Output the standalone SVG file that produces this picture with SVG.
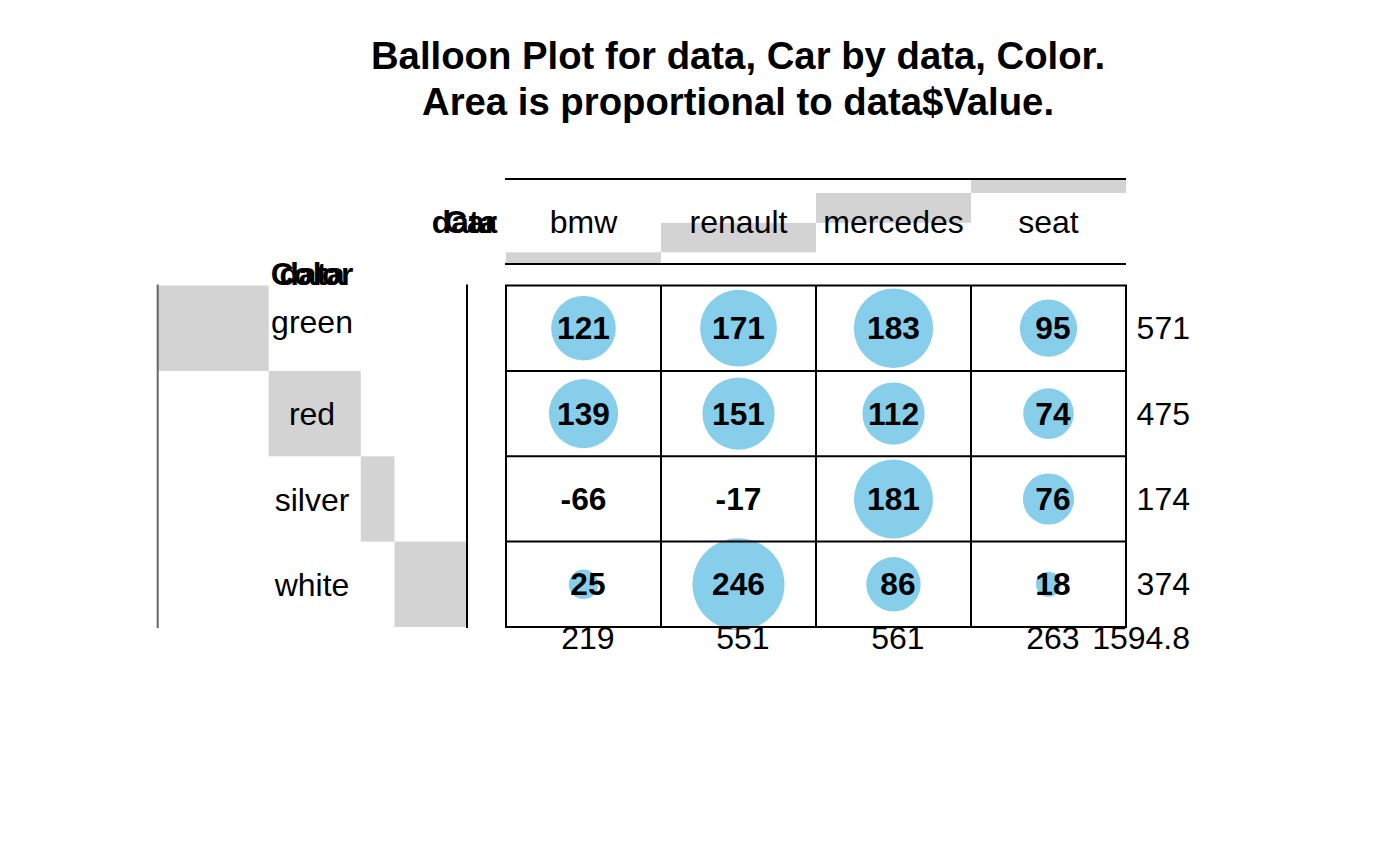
<svg xmlns="http://www.w3.org/2000/svg" width="1400" height="866" viewBox="0 0 1400 866">
<style>
.t{font-family:"Liberation Sans",Arial,sans-serif;font-weight:bold;font-size:38.3px;text-anchor:middle;fill:#000}
.r{font-family:"Liberation Sans",Arial,sans-serif;font-size:32px;fill:#000}
.b{font-family:"Liberation Sans",Arial,sans-serif;font-size:31.7px;font-weight:bold;fill:#000}
.m{text-anchor:middle}
.e{text-anchor:end}
.g{fill:#d3d3d3}
.bal{fill:#87ceeb}
.ln{stroke:#000;stroke-width:2;fill:none}
</style>
<rect width="1400" height="866" fill="#fff"/>
<g id="title">
<text class="t" x="738" y="69">Balloon Plot for data, Car by data, Color.</text>
<text class="t" x="738" y="115">Area is proportional to data$Value.</text>
</g>
<g id="col-header">
<rect class="g" x="506" y="252.3" width="155" height="11.7"/>
<rect class="g" x="661" y="222.9" width="155" height="29.4"/>
<rect class="g" x="816" y="193" width="155" height="29.9"/>
<rect class="g" x="971" y="179" width="155" height="14"/>
<text class="b e" x="497" y="233">data</text>
<text class="b e" x="497" y="233">Car</text>
<text class="r m" x="583.5" y="232.5">bmw</text>
<text class="r m" x="738.5" y="232.5">renault</text>
<text class="r m" x="893.5" y="232.5">mercedes</text>
<text class="r m" x="1048.5" y="232.5">seat</text>
</g>
<g id="row-header">
<rect class="g" x="158" y="285.5" width="110.7" height="85.4"/>
<rect class="g" x="268.7" y="370.9" width="92.1" height="85.4"/>
<rect class="g" x="360.8" y="456.3" width="33.7" height="85.3"/>
<rect class="g" x="394.5" y="541.6" width="72.5" height="85.4"/>
<text class="b m" x="312" y="285">Color</text>
<text class="b m" x="312" y="285">data</text>
<text class="r m" x="312" y="333">green</text>
<text class="r m" x="312" y="424.5">red</text>
<text class="r m" x="312" y="510.5">silver</text>
<text class="r m" x="312" y="596">white</text>
</g>
<g id="balloons">
<circle class="bal" cx="583.5" cy="328.2" r="32.3"/>
<circle class="bal" cx="738.5" cy="328.2" r="38.4"/>
<circle class="bal" cx="893.5" cy="328.2" r="39.7"/>
<circle class="bal" cx="1048.5" cy="328.2" r="28.6"/>
<circle class="bal" cx="583.5" cy="413.6" r="34.6"/>
<circle class="bal" cx="738.5" cy="413.6" r="36.1"/>
<circle class="bal" cx="893.5" cy="413.6" r="31.1"/>
<circle class="bal" cx="1048.5" cy="413.6" r="25.3"/>
<circle class="bal" cx="893.5" cy="499" r="39.5"/>
<circle class="bal" cx="1048.5" cy="499" r="25.6"/>
<circle class="bal" cx="583.5" cy="584.3" r="14.7"/>
<circle class="bal" cx="738.5" cy="584.3" r="46"/>
<circle class="bal" cx="893.5" cy="584.3" r="27.2"/>
<circle class="bal" cx="1048.5" cy="584.3" r="12.5"/>
</g>
<g id="connectors">
<line class="ln" x1="505" y1="179" x2="1126" y2="179"/>
<line class="ln" x1="505" y1="264" x2="1126" y2="264"/>
<line x1="157.7" y1="284.5" x2="157.7" y2="628" stroke="#666" stroke-width="2"/>
<line class="ln" x1="467" y1="284.5" x2="467" y2="628"/>
<rect class="ln" x="506" y="285.5" width="620" height="341.5"/>
<line class="ln" x1="661" y1="285.5" x2="661" y2="627"/>
<line class="ln" x1="816" y1="285.5" x2="816" y2="627"/>
<line class="ln" x1="971" y1="285.5" x2="971" y2="627"/>
<line class="ln" x1="506" y1="370.9" x2="1126" y2="370.9"/>
<line class="ln" x1="506" y1="456.3" x2="1126" y2="456.3"/>
<line class="ln" x1="506" y1="541.6" x2="1126" y2="541.6"/>
</g>
<g id="cells">
<text class="b m" x="583.5" y="339.2">121</text>
<text class="b m" x="738.5" y="339.2">171</text>
<text class="b m" x="893.5" y="339.2">183</text>
<text class="b m" x="1052.9" y="339.2">95</text>
<text class="b m" x="583.5" y="424.6">139</text>
<text class="b m" x="738.5" y="424.6">151</text>
<text class="b m" x="893.5" y="424.6">112</text>
<text class="b m" x="1052.9" y="424.6">74</text>
<text class="b m" x="583.5" y="510">-66</text>
<text class="b m" x="738.5" y="510">-17</text>
<text class="b m" x="893.5" y="510">181</text>
<text class="b m" x="1052.9" y="510">76</text>
<text class="b m" x="587.9" y="595.3">25</text>
<text class="b m" x="738.5" y="595.3">246</text>
<text class="b m" x="897.9" y="595.3">86</text>
<text class="b m" x="1052.9" y="595.3">18</text>
</g>
<g id="totals">
<text class="r e" x="1190" y="339.2">571</text>
<text class="r e" x="1190" y="424.6">475</text>
<text class="r e" x="1190" y="510">174</text>
<text class="r e" x="1190" y="595.3">374</text>
<text class="r m" x="587.9" y="649">219</text>
<text class="r m" x="742.9" y="649">551</text>
<text class="r m" x="897.9" y="649">561</text>
<text class="r m" x="1052.9" y="649">263</text>
<text class="r e" x="1190" y="649">1594.8</text>
</g>
</svg>
